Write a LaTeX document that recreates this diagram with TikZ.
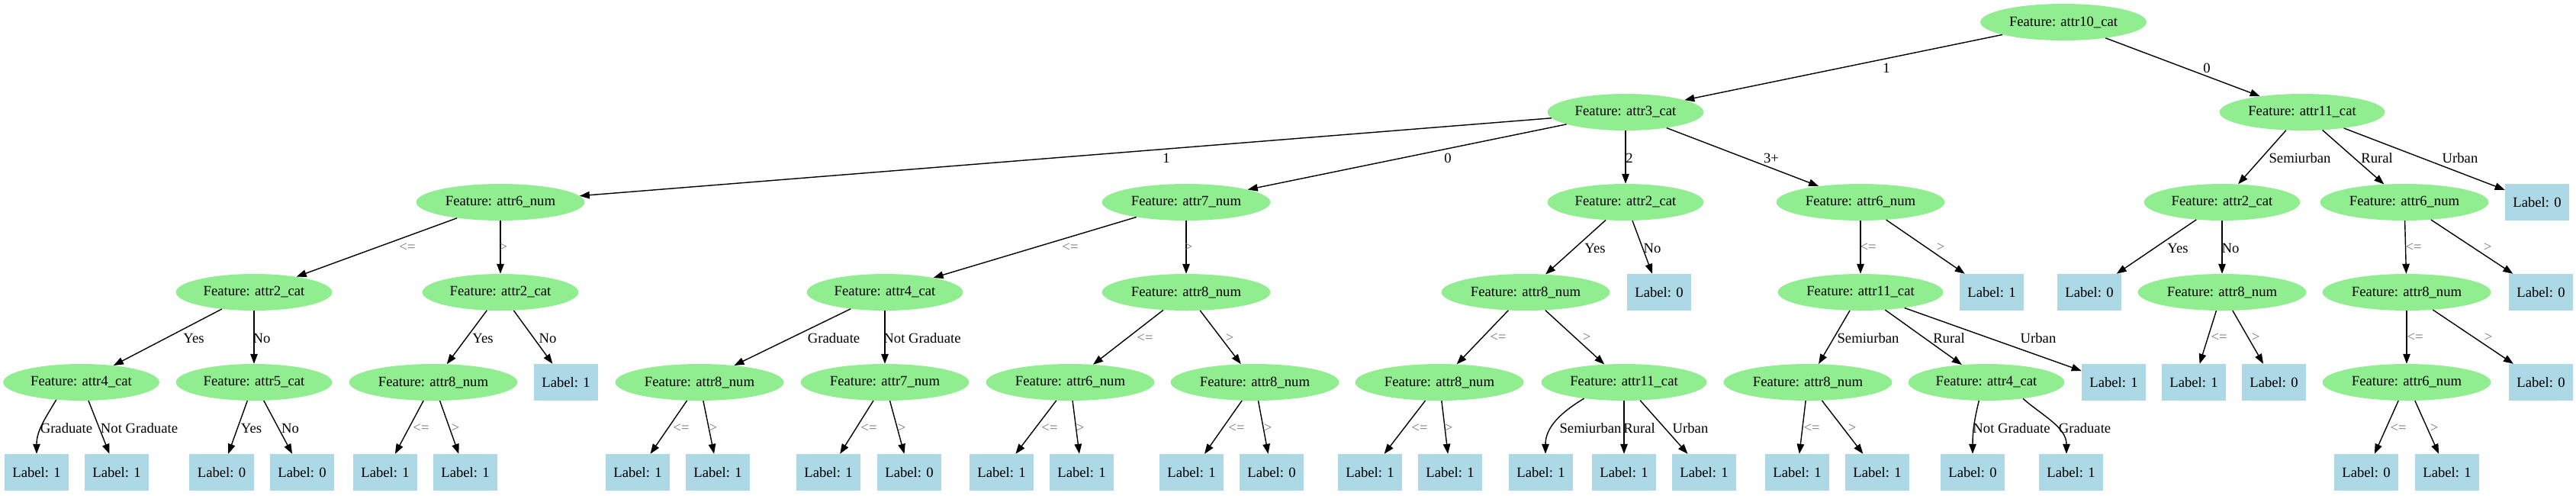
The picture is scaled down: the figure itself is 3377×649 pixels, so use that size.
\documentclass[tikz,border=0pt]{standalone}
\usepackage{fontspec}
\setmainfont{Liberation Serif}
\usetikzlibrary{shapes.geometric,arrows.meta}
\definecolor{lgreen}{HTML}{90EE90}
\definecolor{lblue}{HTML}{ADD8E6}
\newcommand{\gvfs}{\fontsize{18.67pt}{22pt}\selectfont}
\begin{document}
\begin{tikzpicture}[x=1pt,y=-1pt,
  feat/.style={ellipse, fill=lgreen, inner xsep=6pt, inner ysep=2pt, minimum height=48pt, font=\gvfs},
  leaf/.style={rectangle, fill=lblue, inner xsep=10.5pt, inner ysep=2pt, minimum height=48pt, font=\gvfs},
  edge/.style={draw, line width=1.4pt, -{Triangle[length=13pt,width=9.5pt]}},
  elab/.style={font=\gvfs, inner sep=0pt},
  clab/.style={font=\gvfs, inner sep=0pt, text=black!55}]
\useasboundingbox (0,0) rectangle (3377,649);
% row 0-1
\node[feat] (root) at (2705,29) {Feature: attr10\_cat};
\node[feat] (A) at (2131,147) {Feature: attr3\_cat};
\node[feat] (B) at (3018,147) {Feature: attr11\_cat};
% row 2
\node[feat] (A1) at (656,265) {Feature: attr6\_num};
\node[feat] (A0) at (1555,265) {Feature: attr7\_num};
\node[feat] (A2) at (2131,265) {Feature: attr2\_cat};
\node[feat] (A3) at (2439,265) {Feature: attr6\_num};
\node[feat] (B1) at (2913,265) {Feature: attr2\_cat};
\node[feat] (B2) at (3152,265) {Feature: attr6\_num};
\node[leaf] (B3) at (3326,265) {Label: 0};
% row 3
\node[feat] (A1a) at (333,383) {Feature: attr2\_cat};
\node[feat] (A1b) at (656,383) {Feature: attr2\_cat};
\node[feat] (A0a) at (1160,383) {Feature: attr4\_cat};
\node[feat] (A0b) at (1555,383) {Feature: attr8\_num};
\node[feat] (A2a) at (2000,383) {Feature: attr8\_num};
\node[leaf] (A2b) at (2175,383) {Label: 0};
\node[feat] (A3a) at (2439,383) {Feature: attr11\_cat};
\node[leaf] (A3b) at (2611,383) {Label: 1};
\node[leaf] (B1a) at (2739,383) {Label: 0};
\node[feat] (B1b) at (2913,383) {Feature: attr8\_num};
\node[feat] (B2a) at (3155,383) {Feature: attr8\_num};
\node[leaf] (B2b) at (3331,383) {Label: 0};
% row 4
\node[feat] (A1a1) at (106.5,501) {Feature: attr4\_cat};
\node[feat] (A1a2) at (333,501) {Feature: attr5\_cat};
\node[feat] (A1b1) at (568,501) {Feature: attr8\_num};
\node[leaf] (A1b2) at (742,501) {Label: 1};
\node[feat] (A0a1) at (917,501) {Feature: attr8\_num};
\node[feat] (A0a2) at (1160,501) {Feature: attr7\_num};
\node[feat] (A0b1) at (1403,501) {Feature: attr6\_num};
\node[feat] (A0b2) at (1645,501) {Feature: attr8\_num};
\node[feat] (A2a1) at (1887,501) {Feature: attr8\_num};
\node[feat] (A2a2) at (2129,501) {Feature: attr11\_cat};
\node[feat] (A3a1) at (2370,501) {Feature: attr8\_num};
\node[feat] (A3a2) at (2604,501) {Feature: attr4\_cat};
\node[leaf] (A3a3) at (2771,501) {Label: 1};
\node[leaf] (B1b1) at (2876,501) {Label: 1};
\node[leaf] (B1b2) at (2981,501) {Label: 0};
\node[feat] (B2a1) at (3155,501) {Feature: attr6\_num};
\node[leaf] (B2a2) at (3331,501) {Label: 0};
% row 5
\node[leaf] (A1a1a) at (48,619) {Label: 1};
\node[leaf] (A1a1b) at (153,619) {Label: 1};
\node[leaf] (A1a2a) at (290.5,619) {Label: 0};
\node[leaf] (A1a2b) at (396,619) {Label: 0};
\node[leaf] (A1b1a) at (505,619) {Label: 1};
\node[leaf] (A1b1b) at (610,619) {Label: 1};
\node[leaf] (A0a1a) at (836,619) {Label: 1};
\node[leaf] (A0a1b) at (941,619) {Label: 1};
\node[leaf] (A0a2a) at (1086,619) {Label: 1};
\node[leaf] (A0a2b) at (1192,619) {Label: 0};
\node[leaf] (A0b1a) at (1313,619) {Label: 1};
\node[leaf] (A0b1b) at (1418,619) {Label: 1};
\node[leaf] (A0b2a) at (1562,619) {Label: 1};
\node[leaf] (A0b2b) at (1667,619) {Label: 0};
\node[leaf] (A2a1a) at (1796,619) {Label: 1};
\node[leaf] (A2a1b) at (1901,619) {Label: 1};
\node[leaf] (A2a2a) at (2020,619) {Label: 1};
\node[leaf] (A2a2b) at (2129,619) {Label: 1};
\node[leaf] (A2a2c) at (2234,619) {Label: 1};
\node[leaf] (A3a1a) at (2356,619) {Label: 1};
\node[leaf] (A3a1b) at (2461,619) {Label: 1};
\node[leaf] (A3a2a) at (2586,619) {Label: 0};
\node[leaf] (A3a2b) at (2715,619) {Label: 1};
\node[leaf] (B2a1a) at (3102,619) {Label: 0};
\node[leaf] (B2a1b) at (3208,619) {Label: 1};
% edges
\draw[edge] (root) -- (A);   \node[elab] (e01) at (2473,89) {1};
\draw[edge] (root) -- (B);   \node[elab] (e02) at (2893,89) {0};
\draw[edge] (A) -- (A1);     \node[elab] (e03) at (1529,207) {1};
\draw[edge] (A) -- (A0);     \node[elab] (e04) at (1898,207) {0};
\draw[edge] (A) -- (A2);     \node[elab] (e05) at (2136,207) {2};
\draw[edge] (A) -- (A3);     \node[elab] (e06) at (2322,207) {3+};
\draw[edge] (B) -- (B1);     \node[elab] (e07) at (3015,207) {Semiurban};
\draw[edge] (B) -- (B2);     \node[elab] (e08) at (3116,207) {Rural};
\draw[edge] (B) -- (B3);     \node[elab] (e09) at (3225,207) {Urban};
\draw[edge] (A1) -- (A1a);   \node[clab] (e10) at (534,324) {<=};
\draw[edge] (A1) -- (A1b);   \node[clab] (e11) at (660,324) {>};
\draw[edge] (A0) -- (A0a);   \node[clab] (e12) at (1403,324) {<=};
\draw[edge] (A0) -- (A0b);   \node[clab] (e13) at (1558,324) {>};
\draw[edge] (A2) -- (A2a);   \node[elab] (e14) at (2091,325) {Yes};
\draw[edge] (A2) -- (A2b);   \node[elab] (e15) at (2166,325) {No};
\draw[edge] (A3) -- (A3a);   \node[clab] (e16) at (2449,324) {<=};
\draw[edge] (A3) -- (A3b);   \node[clab] (e17) at (2544,324) {>};
\draw[edge] (B1) -- (B1a);   \node[elab] (e18) at (2855,325) {Yes};
\draw[edge] (B1) -- (B1b);   \node[elab] (e19) at (2924,325) {No};
\draw[edge] (B2) -- (B2a);   \node[clab] (e20) at (3164,324) {<=};
\draw[edge] (B2) -- (B2b);   \node[clab] (e21) at (3261,324) {>};
\draw[edge] (A1a) -- (A1a1); \node[elab] (e22) at (254,443) {Yes};
\draw[edge] (A1a) -- (A1a2); \node[elab] (e23) at (343,443) {No};
\draw[edge] (A1b) -- (A1b1); \node[elab] (e24) at (633,443) {Yes};
\draw[edge] (A1b) -- (A1b2); \node[elab] (e25) at (718,443) {No};
\draw[edge] (A0a) -- (A0a1); \node[elab] (e26) at (1093,443) {Graduate};
\draw[edge] (A0a) -- (A0a2); \node[elab] (e27) at (1209,443) {Not Graduate};
\draw[edge] (A0b) -- (A0b1); \node[clab] (e28) at (1501,443) {<=};
\draw[edge] (A0b) -- (A0b2); \node[clab] (e29) at (1612,443) {>};
\draw[edge] (A2a) -- (A2a1); \node[clab] (e30) at (1964,442) {<=};
\draw[edge] (A2a) -- (A2a2); \node[clab] (e31) at (2080,442) {>};
\draw[edge] (A3a) -- (A3a1); \node[elab] (e32) at (2449,443) {Semiurban};
\draw[edge] (A3a) -- (A3a2); \node[elab] (e33) at (2555,443) {Rural};
\draw[edge] (A3a) -- (A3a3); \node[elab] (e34) at (2672,443) {Urban};
\draw[edge] (B1b) -- (B1b1); \node[clab] (e35) at (2909,442) {<=};
\draw[edge] (B1b) -- (B1b2); \node[clab] (e36) at (2957,442) {>};
\draw[edge] (B2a) -- (B2a1); \node[clab] (e37) at (3166,442) {<=};
\draw[edge] (B2a) -- (B2a2); \node[clab] (e38) at (3262,442) {>};
% row 4 -> 5
\draw[edge] (A1a1.-145) .. controls +(-15,25) and +(0,-30) .. (A1a1a.north); \node[elab] (e39) at (87,561) {Graduate};
\draw[edge] (A1a1) -- (A1a1b); \node[elab] (e40) at (182.5,561) {Not Graduate};
\draw[edge] (A1a2) -- (A1a2a); \node[elab] (e41) at (329.5,561) {Yes};
\draw[edge] (A1a2) -- (A1a2b); \node[elab] (e42) at (380.6,561) {No};
\draw[edge] (A1b1) -- (A1b1a); \node[clab] (e43) at (552,561) {<=};
\draw[edge] (A1b1) -- (A1b1b); \node[clab] (e44) at (597,561) {>};
\draw[edge] (A0a1) -- (A0a1a); \node[clab] (e45) at (893,561) {<=};
\draw[edge] (A0a1) -- (A0a1b); \node[clab] (e46) at (935,561) {>};
\draw[edge] (A0a2) -- (A0a2a); \node[clab] (e47) at (1139,561) {<=};
\draw[edge] (A0a2) -- (A0a2b); \node[clab] (e48) at (1182,561) {>};
\draw[edge] (A0b1) -- (A0b1a); \node[clab] (e49) at (1376,561) {<=};
\draw[edge] (A0b1) -- (A0b1b); \node[clab] (e50) at (1416,561) {>};
\draw[edge] (A0b2) -- (A0b2a); \node[clab] (e51) at (1621,561) {<=};
\draw[edge] (A0b2) -- (A0b2b); \node[clab] (e52) at (1662,561) {>};
\draw[edge] (A2a1) -- (A2a1a); \node[clab] (e53) at (1861,561) {<=};
\draw[edge] (A2a1) -- (A2a1b); \node[clab] (e54) at (1899,561) {>};
\draw[edge] (A2a2.-158) .. controls +(-30,18) and +(0,-35) .. ([xshift=6pt]A2a2a.north); \node[elab] (e55) at (2085,561) {Semiurban};
\draw[edge] (A2a2) -- (A2a2b); \node[elab] (e56) at (2149,561) {Rural};
\draw[edge] (A2a2) -- (A2a2c); \node[elab] (e57) at (2216,561) {Urban};
\draw[edge] (A3a1) -- (A3a1a); \node[clab] (e58) at (2375,561) {<=};
\draw[edge] (A3a1) -- (A3a1b); \node[clab] (e59) at (2428,561) {>};
\draw[edge] (A3a2.-112) .. controls +(-6,25) and +(0,-30) .. (A3a2a.north); \node[elab] (e60) at (2637,561) {Not Graduate};
\draw[edge] (A3a2.-24) .. controls +(25,22) and +(0,-35) .. ([xshift=-6pt]A3a2b.north); \node[elab] (e61) at (2733,561) {Graduate};
\draw[edge] (B2a1) -- (B2a1a); \node[clab] (e62) at (3144,561) {<=};
\draw[edge] (B2a1) -- (B2a1b); \node[clab] (e63) at (3191,561) {>};
\end{tikzpicture}
\end{document}
